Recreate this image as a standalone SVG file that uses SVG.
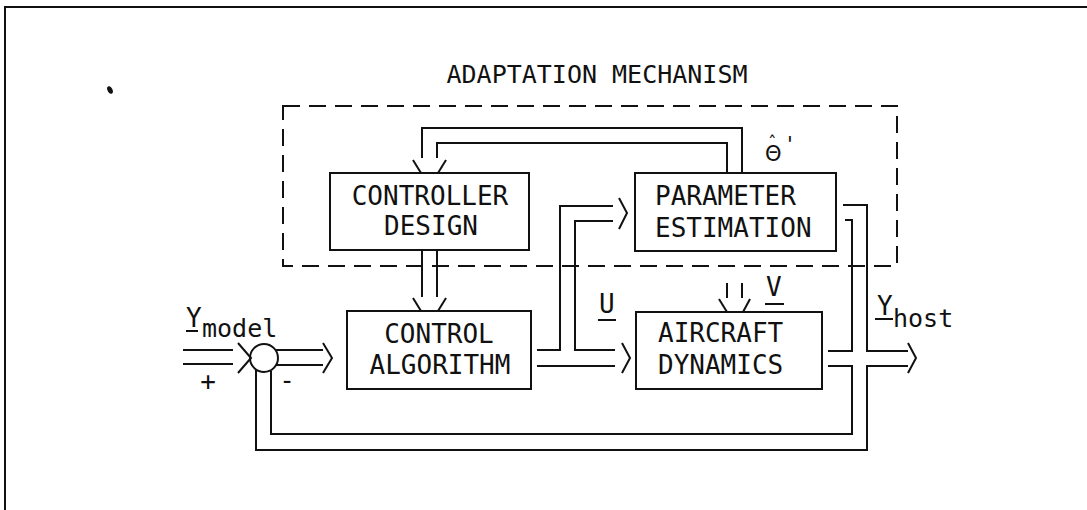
<svg xmlns="http://www.w3.org/2000/svg" width="1087" height="510" viewBox="0 0 1087 510">
  <style>
    .ln { fill: none; stroke: #111; stroke-width: 2; stroke-linejoin: miter; stroke-linecap: butt; }
    .box { fill: none; stroke: #111; stroke-width: 2; }
    .dash { fill: none; stroke: #111; stroke-width: 2; stroke-dasharray: 17 9; }
    .t { font-family: "DejaVu Sans Mono", "Liberation Mono", monospace; font-size: 26px; fill: #111; }
    .s { font-family: "DejaVu Sans Mono", "Liberation Mono", monospace; font-size: 25px; fill: #111; }
  </style>
  <rect width="1087" height="510" fill="#fff"/>

  <!-- page frame (top and left edges only) -->
  <path class="ln" d="M5,510 V7 H1087"/>
  <ellipse cx="110" cy="90" rx="2.5" ry="4" fill="#111" transform="rotate(-25 110 90)"/>

  <!-- adaptation mechanism boundary -->
  <g id="adaptation-mechanism">
    <rect class="dash" x="283" y="106" width="614" height="160"/>
    <text class="s" x="597" y="83" text-anchor="middle">ADAPTATION MECHANISM</text>
  </g>

  <g id="controller-design">
    <rect class="box" x="330" y="173" width="199" height="77"/>
    <text class="t" x="430" y="205" text-anchor="middle">CONTROLLER</text>
    <text class="t" x="431" y="235" text-anchor="middle">DESIGN</text>
  </g>

  <g id="parameter-estimation">
    <rect class="box" x="635" y="173" width="201" height="78"/>
    <text class="t" x="655" y="205">PARAMETER</text>
    <text class="t" x="655" y="237">ESTIMATION</text>
  </g>

  <g id="control-algorithm">
    <rect class="box" x="347" y="311" width="184" height="78"/>
    <text class="t" x="439" y="343" text-anchor="middle">CONTROL</text>
    <text class="t" x="440" y="374" text-anchor="middle">ALGORITHM</text>
  </g>

  <g id="aircraft-dynamics">
    <rect class="box" x="636" y="312" width="186" height="77"/>
    <text class="t" x="658" y="342">AIRCRAFT</text>
    <text class="t" x="658" y="374">DYNAMICS</text>
  </g>

  <g id="summing-junction">
    <circle class="box" cx="264" cy="358" r="14"/>
    <text class="t" x="208" y="390" text-anchor="middle">+</text>
    <text class="t" x="287" y="389" text-anchor="middle">-</text>
  </g>

  <!-- signal labels -->
  <g id="labels">
    <text class="t" x="186" y="327">Y</text>
    <text class="s" x="202" y="337">model</text>
    <line class="ln" x1="186" y1="331" x2="198" y2="331"/>

    <text class="t" x="599" y="313">U</text>
    <line class="ln" x1="598" y1="320" x2="616" y2="320"/>

    <text class="t" x="766" y="296">V</text>
    <line class="ln" x1="765" y1="304" x2="784" y2="304"/>

    <text class="t" x="877" y="315">Y</text>
    <line class="ln" x1="875" y1="319" x2="893" y2="319"/>
    <text class="s" x="893" y="327">host</text>

    <!-- estimated parameter vector, theta-hat prime -->
    <text font-family="DejaVu Sans, Noto Sans, sans-serif" fill="#111"><tspan x="765" y="161" font-size="21">&#x398;</tspan><tspan x="768" y="149" font-size="17">&#x2C6;</tspan><tspan x="787" y="152" font-size="21">'</tspan></text>
  </g>

  <!-- double-line signal connectors with open arrowheads -->
  <g id="connectors">
    <!-- parameter estimates back to controller design -->
    <polyline class="ln" points="742,173 742,128 422,128 422,158"/>
    <polyline class="ln" points="727,173 727,143 437,143 437,158"/>
    <line class="ln" x1="413" y1="160" x2="421" y2="173"/>
    <line class="ln" x1="446" y1="160" x2="438" y2="173"/>

    <!-- controller design to control algorithm -->
    <line class="ln" x1="422" y1="250" x2="422" y2="297"/>
    <line class="ln" x1="437" y1="250" x2="437" y2="297"/>
    <line class="ln" x1="413" y1="298" x2="421" y2="311"/>
    <line class="ln" x1="446" y1="298" x2="438" y2="311"/>

    <!-- reference input into summing junction -->
    <line class="ln" x1="183" y1="350" x2="233" y2="350"/>
    <line class="ln" x1="183" y1="364" x2="233" y2="364"/>
    <polyline class="ln" points="238,343 251,358 238,373"/>

    <!-- error to control algorithm -->
    <line class="ln" x1="276" y1="350" x2="323" y2="350"/>
    <line class="ln" x1="276" y1="365" x2="323" y2="365"/>
    <polyline class="ln" points="323,343 332,358 323,373"/>

    <!-- control output U to parameter estimation and aircraft dynamics -->
    <polyline class="ln" points="537,350 560,350 560,206 613,206"/>
    <polyline class="ln" points="613,221 575,221 575,350 615,350"/>
    <line class="ln" x1="537" y1="366" x2="615" y2="366"/>
    <polyline class="ln" points="619,198 627,213 619,229"/>
    <polyline class="ln" points="622,343 630,358 622,373"/>

    <!-- disturbance V into aircraft dynamics -->
    <line class="ln" x1="727" y1="283" x2="727" y2="298"/>
    <line class="ln" x1="742" y1="283" x2="742" y2="298"/>
    <line class="ln" x1="719" y1="299" x2="727" y2="312"/>
    <line class="ln" x1="750" y1="299" x2="743" y2="312"/>

    <!-- aircraft output Y to estimator, output and feedback -->
    <polyline class="ln" points="828,351 852,351 852,220 845,220"/>
    <polyline class="ln" points="843,205 867,205 867,351 908,351"/>
    <polyline class="ln" points="828,366 852,366 852,434 271,434 271,371"/>
    <polyline class="ln" points="908,366 867,366 867,450 256,450 256,370"/>
    <polyline class="ln" points="908,343 916,358 908,373"/>
  </g>
</svg>
